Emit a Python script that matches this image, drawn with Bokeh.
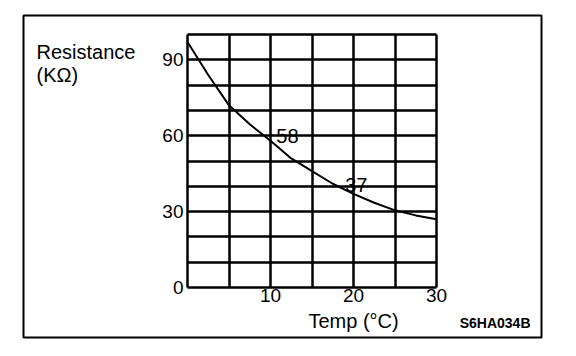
from bokeh.plotting import figure
from bokeh.models import FixedTicker, Label, Range1d, ColumnDataSource
from bokeh.embed import file_html
from bokeh.resources import INLINE

# ---- data ----
temps = [0, 2.5, 5, 7.5, 10, 12.5, 15, 17.5, 20, 22.5, 25, 27.5, 30]
resistance = [97, 84, 72, 64.5, 58, 51, 46, 41, 37, 33.5, 30.5, 28.5, 27]
x_tick_values = [10, 20, 30]
y_tick_values = [0, 30, 60, 90]
x_grid_values = [0, 5, 10, 15, 20, 25, 30]
y_grid_values = [0, 10, 20, 30, 40, 50, 60, 70, 80, 90, 100]
callout_texts = ["58", "37"]

FONT = "Liberation Sans"

# pixel geometry of the chart box: 0..30 -> 187..436 px, 0..100 -> 287..34 px
PX_X = (436 - 187) / 30.0
PX_Y = (287 - 34) / 100.0
def dx(px):
    return (px - 187) / PX_X
def dy(py):
    return (287 - py) / PX_Y

p = figure(width=576, height=356, output_backend="svg", toolbar_location=None,
           x_range=Range1d(dx(23), dx(541)), y_range=Range1d(dy(337), dy(15)),
           min_border_left=23, min_border_right=35,
           min_border_top=15, min_border_bottom=19)
p.background_fill_color = "white"
p.border_fill_color = "white"
p.outline_line_color = "black"
p.outline_line_width = 2

src = ColumnDataSource(dict(t=temps, r=resistance))
p.line("t", "r", source=src, line_color="black", line_width=2)

# grid (limited to the chart box)
p.xgrid.ticker = FixedTicker(ticks=x_grid_values)
p.ygrid.ticker = FixedTicker(ticks=y_grid_values)
p.xgrid.cross_bounds = (0, 100)
p.ygrid.cross_bounds = (0, 30)
for g in (p.xgrid, p.ygrid):
    g.grid_line_color = "black"
    g.grid_line_width = 2.5
    g.grid_line_alpha = 1.0
    g.level = "underlay"

# axes placed at the chart box edges
p.xaxis.fixed_location = 0
p.yaxis.fixed_location = 0
p.xaxis.bounds = (0, 30)
p.yaxis.bounds = (0, 100)
p.xaxis.ticker = FixedTicker(ticks=x_tick_values)
p.yaxis.ticker = FixedTicker(ticks=y_tick_values)
for ax in (p.xaxis, p.yaxis):
    ax.axis_line_color = None
    ax.major_tick_line_color = None
    ax.minor_tick_line_color = None
    ax.major_tick_in = 0
    ax.major_tick_out = 0
    ax.major_label_text_font = FONT
    ax.major_label_text_font_size = "19px"
    ax.major_label_text_color = "black"
p.xaxis.major_label_standoff = 1
p.yaxis.major_label_standoff = 4


def lbl(x, y, text, size="20px", align="left", baseline="alphabetic", style="normal"):
    p.add_layout(Label(x=x, y=y, text=text,
                       text_font=FONT, text_font_size=size,
                       text_align=align, text_baseline=baseline, text_color="black",
                       text_font_style=style))

# callouts
lbl(10.7, 60, callout_texts[0], baseline="middle")
lbl(19.0, 40.5, callout_texts[1])

# titles
lbl(dx(36), dy(51), "Resistance")
lbl(dx(36), dy(74), "(KΩ)")
lbl(dx(308), dy(320), "Temp (°C)", baseline="middle")
lbl(dx(530), dy(322), "S6HA034B", size="14px", align="right", baseline="middle", style="bold")

open("out.html", "w").write(file_html(p, INLINE))
